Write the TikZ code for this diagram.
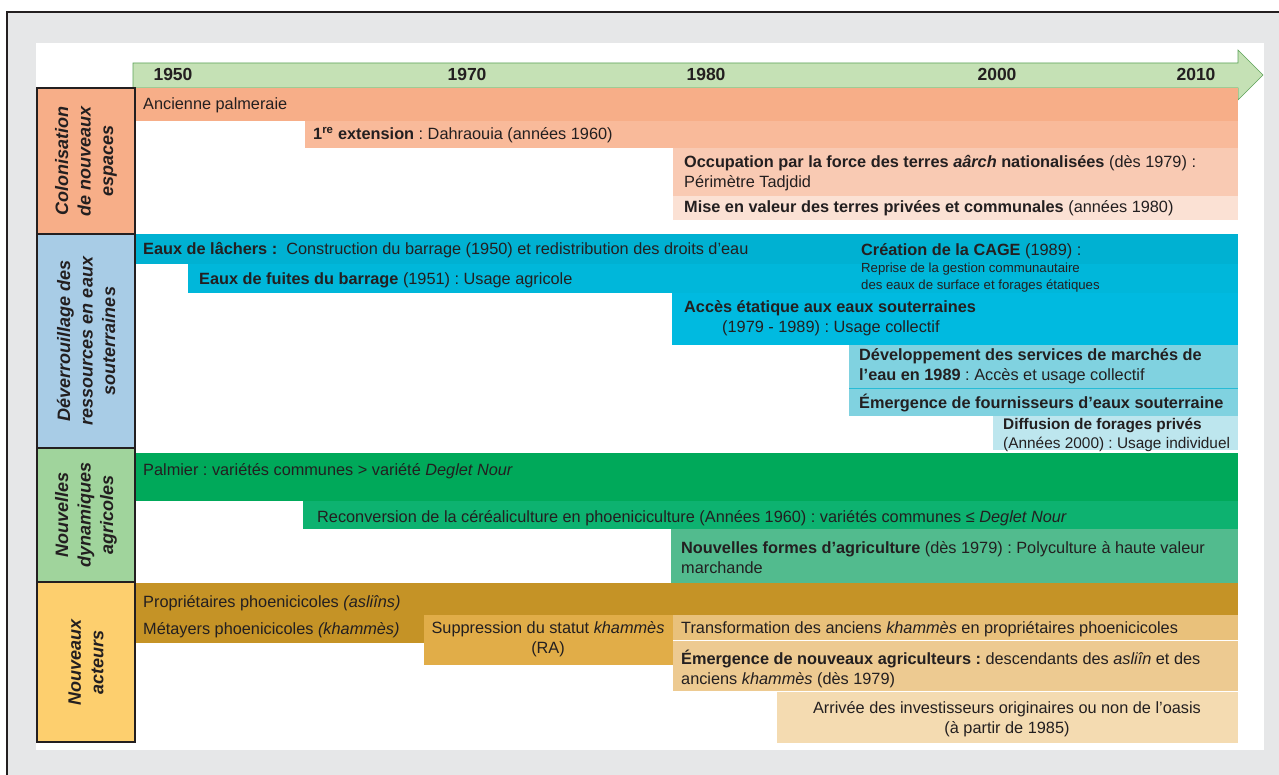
\documentclass[tikz,border=0pt]{standalone}
\usepackage{fontspec}
\setmainfont{Liberation Sans}
\usetikzlibrary{positioning}
\frenchspacing

\definecolor{ink}{HTML}{231F20}
\definecolor{frame}{HTML}{E6E7E8}
\definecolor{axisfill}{HTML}{C5E1B5}
\definecolor{axisline}{HTML}{5DA35A}
\definecolor{salmonA}{HTML}{F7AE88}
\definecolor{salmonB}{HTML}{F9BA9A}
\definecolor{salmonC}{HTML}{F9CAB3}
\definecolor{salmonD}{HTML}{FBE1D4}
\definecolor{catblue}{HTML}{A8CCE6}
\definecolor{cyanA}{HTML}{00B1D2}
\definecolor{cyanB}{HTML}{00B7DA}
\definecolor{cyanC}{HTML}{00BAE0}
\definecolor{cyanD}{HTML}{80D2E0}
\definecolor{cyanE}{HTML}{BDE6EE}
\definecolor{catgreen}{HTML}{A0D49C}
\definecolor{greenA}{HTML}{00A95A}
\definecolor{greenB}{HTML}{0DB270}
\definecolor{greenC}{HTML}{52BB8E}
\definecolor{catyellow}{HTML}{FDCF6E}
\definecolor{goldA}{HTML}{C59326}
\definecolor{goldB}{HTML}{E1AD48}
\definecolor{goldC}{HTML}{E9C17B}
\definecolor{goldD}{HTML}{EDCA91}
\definecolor{goldE}{HTML}{F4DBB1}

\tikzset{
  txt/.style={anchor=base west, inner sep=0pt, align=left, text=ink,
    font=\fontsize{16.3}{20}\selectfont},
  smalltxt/.style={txt, font=\fontsize{13.2}{17}\selectfont},
  ctxt/.style={txt, anchor=base, align=center},
  year/.style={anchor=base, inner sep=0pt, text=ink,
    font=\fontsize{17.5}{20}\selectfont\bfseries},
  catbox/.style={draw=ink, line width=1.6pt},
  cattxt/.style={rotate=90, align=center, inner sep=0pt, text=ink,
    font=\fontsize{18}{22.5}\selectfont\bfseries\itshape}
}

\begin{document}
\begin{tikzpicture}[x=1pt, y=-1pt]
\useasboundingbox (0,0) rectangle (1279,775);
\fill[frame] (7,12) rectangle (1279,775);
\draw[ink, line width=1.2pt] (7,775) -- (7,12) -- (1279,12);
\fill[white] (36,43) rectangle (1264,750);

\filldraw[fill=axisfill, draw=axisline, line width=0.6pt]
  (133,63) -- (1238,63) -- (1238,50) -- (1263,75) -- (1238,100)
  -- (1238,88) -- (133,88) -- cycle;
\node[year] (y1950) at (173,81) {1950};
\node[year] (y1970) at (467,81) {1970};
\node[year] (y1980) at (706,81) {1980};
\node[year] (y2000) at (997,81) {2000};
\node[year] (y2010) at (1196,81) {2010};

\fill[salmonA] (135,88) rectangle (1238,121);
\fill[salmonB] (305,121) rectangle (1238,148);
\fill[salmonC] (673,148) rectangle (1238,196);
\fill[salmonD] (673,196) rectangle (1238,220);
\node[txt] (palmeraie) at (143,110) {Ancienne palmeraie};
\node[txt] (extension) at (313,140) {\textbf{1\textsuperscript{re} extension} : Dahraouia (années 1960)};
\node[txt] (occupation) at (684,188) {\textbf{Occupation par la force des terres \textit{aârch} nationalisées} (dès 1979) :\\Périmètre Tadjdid};
\node[txt] (miseenvaleur) at (684,213) {\textbf{Mise en valeur des terres privées et communales} (années 1980)};

\fill[cyanA] (135,234) rectangle (1238,264);
\fill[cyanB] (188,264) rectangle (1238,293);
\fill[cyanC] (672,293) rectangle (1238,345);
\fill[cyanD] (849,345) rectangle (1238,416);
\draw[cyanA!70!cyanD, line width=1pt] (849,388) -- (1238,388);
\fill[cyanE] (993,416) rectangle (1238,450);
\node[txt] (lachers) at (143,255) {\textbf{Eaux de lâchers :}\ \ Construction du barrage (1950) et redistribution des droits d’eau};
\node[txt] (fuites) at (199,285) {\textbf{Eaux de fuites du barrage} (1951) : Usage agricole};
\node[txt] (cage) at (861,256) {\textbf{Création de la CAGE} (1989) :};
\node[smalltxt] (cagedesc) at (861,290) {Reprise de la gestion communautaire\\des eaux de surface et forages étatiques};
\node[txt] (acces) at (684,333) {\textbf{Accès étatique aux eaux souterraines}\\\hspace*{38pt}(1979 - 1989) : Usage collectif};
\node[txt] (marches) at (859,380) {\textbf{Développement des services de marchés de}\\\textbf{l’eau en 1989} : Accès et usage collectif};
\node[txt] (fournisseurs) at (859,408) {\textbf{Émergence de fournisseurs d’eaux souterraine}};
\node[txt, font=\fontsize{15.4}{19}\selectfont] (forages) at (1003,448) {\textbf{Diffusion de forages privés}\\(Années 2000) : Usage individuel};

\fill[greenA] (135,453) rectangle (1238,501);
\fill[greenB] (303,501) rectangle (1238,529);
\fill[greenC] (671,529) rectangle (1238,583);
\node[txt] (palmier) at (143,475) {Palmier : variétés communes > variété \textit{Deglet Nour}};
\node[txt] (reconversion) at (317,522) {Reconversion de la céréaliculture en phoeniciculture (Années 1960) : variétés communes ≤ \textit{Deglet Nour}};
\node[txt] (formes) at (681,573) {\textbf{Nouvelles formes d’agriculture} (dès 1979) : Polyculture à haute valeur\\marchande};

\fill[goldA] (135,583) rectangle (1238,615);
\fill[goldA] (135,615) rectangle (424,643);
\fill[goldB] (424,615) rectangle (673,665);
\fill[goldC] (673,615) rectangle (1238,640);
\fill[goldD] (673,641) rectangle (1238,691);
\fill[goldE] (777,692) rectangle (1238,743);
\node[txt] (proprietaires) at (143,607) {Propriétaires phoenicicoles \textit{(asliîns)}};
\node[txt] (metayers) at (143,634) {Métayers phoenicicoles \textit{(khammès)}};
\node[ctxt] (suppression) at (548,653) {Suppression du statut \textit{khammès}\\(RA)};
\node[txt] (transformation) at (681,633) {Transformation des anciens \textit{khammès} en propriétaires phoenicicoles};
\node[txt] (agriculteurs) at (681,684) {\textbf{Émergence de nouveaux agriculteurs :} descendants des \textit{asliîn} et des\\anciens \textit{khammès} (dès 1979)};
\node[ctxt] (investisseurs) at (1007,733) {Arrivée des investisseurs originaires ou non de l’oasis\\(à partir de 1985)};

\filldraw[catbox, fill=salmonA] (37,88) rectangle (135,234);
\filldraw[catbox, fill=catblue] (37,234) rectangle (135,448);
\filldraw[catbox, fill=catgreen] (37,448) rectangle (135,582);
\filldraw[catbox, fill=catyellow] (37,582) rectangle (135,742);
\node[cattxt] (colonisation) at (86,161) {Colonisation\\de nouveaux\\espaces};
\node[cattxt] (ressources) at (86,341) {Déverrouillage des\\ressources en eaux\\souterraines};
\node[cattxt] (dynamiques) at (86,515) {Nouvelles\\dynamiques\\agricoles};
\node[cattxt] (acteurs) at (86,662) {Nouveaux\\acteurs};
\end{tikzpicture}
\end{document}
